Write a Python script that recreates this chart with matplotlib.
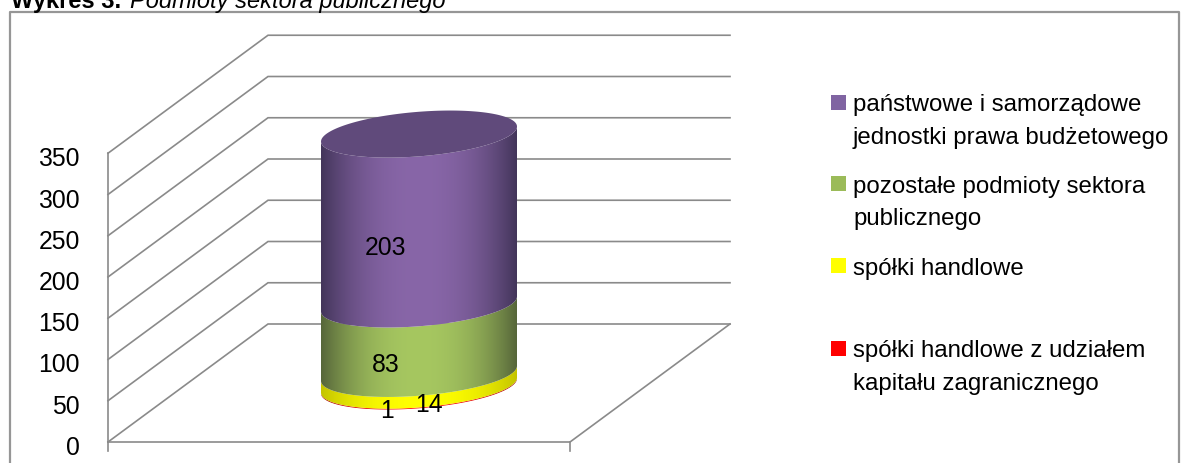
import numpy as np
import matplotlib.colors as mcolors
from matplotlib import pyplot as plt
from matplotlib.patches import Rectangle, Polygon

y_ticks = [0, 50, 100, 150, 200, 250, 300, 350]
names = ['spółki handlowe z udziałem\nkapitału zagranicznego', 'spółki handlowe',
         'pozostałe podmioty sektora\npublicznego', 'państwowe i samorządowe\njednostki prawa budżetowego']
values = [1, 14, 83, 203]
colors = ['#ff0000', '#ffff00', '#a6c760', '#8866a8']
edge_colors = ['#a00000', '#c4c400', '#56663a', '#43355a']
legend_colors = ['#ff0000', '#ffff00', '#9bbb59', '#8064a2']

W, H = 1181, 464
FONT = 'Liberation Sans'
GRID = '#8a8a8a'

fig = plt.figure(figsize=(W / 100, H / 100), dpi=100)
ax = fig.add_axes([0, 0, 1, 1])
ax.set_xlim(0, W)
# y axis is in chart units, 0 sits on the floor line
scale = 0.825
floor = 443
ax.set_ylim((floor - H) / scale, floor / scale)
ax.axis('off')

depth_x, depth_y = 160, 118 / scale
x0, x1 = 108, 570

# outer frame
ax.plot([9.5, 9.5, 1179, 1179], [(floor - 464) / scale, (floor - 13) / scale, (floor - 13) / scale, (floor - 464) / scale],
        color='#969696', lw=1.6)

# walls
for v in y_ticks:
    ax.plot([x0, x0 + depth_x, x1 + depth_x], [v, v + depth_y, v + depth_y], color=GRID, lw=1.2, solid_joinstyle='miter')
ax.plot([x0, x0], [0, max(y_ticks)], color=GRID, lw=1.2)
# floor
ax.plot([x0, x1, x1 + depth_x], [0, 0, depth_y], color=GRID, lw=1.2)
ax.plot([x1, x1], [0, -9 / scale], color=GRID, lw=1.2)
ax.plot([x0, x0], [0, -9 / scale], color=GRID, lw=1.2)

for v in y_ticks:
    ax.text(80, v - 5 / scale, str(v), ha='right', va='center', fontsize=17.8, family=FONT, color='black')


# cylinder
cx, rx = 419, 98
tilt, ry = 7.5 / scale, 22.3 / scale
base = (floor - 387) / scale
bar_scale = 0.837 / scale
t = np.linspace(0, 2 * np.pi, 241)


def rim(level, ang):
    return cx + rx * np.cos(ang), level + tilt * np.cos(ang) + ry * np.sin(ang)


def shade(c_mid, c_edge, n=256):
    u = np.linspace(-1, 1, n)
    k = (np.abs(u) ** 2.2)[None, :, None]
    return (1 - k) * np.array(mcolors.to_rgb(c_mid))[None, None, :] + k * np.array(mcolors.to_rgb(c_edge))[None, None, :]


bottom = base
front = np.linspace(np.pi, 2 * np.pi, 121)
for val, col, edge in zip(values, colors, edge_colors):
    top = bottom + val * bar_scale
    xb, yb = rim(bottom, front)
    xt, yt = rim(top, front[::-1])
    verts = np.vstack([np.column_stack([xb, yb]), np.column_stack([xt, yt])])
    im = ax.imshow(shade(col, edge), extent=[cx - rx, cx + rx, bottom - ry - tilt, top + ry + tilt],
                   aspect='auto', zorder=3, interpolation='bilinear')
    im.set_clip_path(Polygon(verts, closed=True, transform=ax.transData))
    bottom = top

xt, yt = rim(bottom, t)
ax.fill(xt, yt, color='#604a7b', lw=0, zorder=4)
ax.set_xlim(0, W)
ax.set_ylim((floor - H) / scale, floor / scale)

# data labels
label_x = [387, 429, 386, 385]
label_y = [39, 46, 94, 236]
for lx, ly, val in zip(label_x, label_y, values):
    ax.text(lx, ly, str(val), ha='center', va='center', fontsize=17.8, family=FONT, color='black', zorder=5)

# legend
legend_y = [349, 266, 184, 103]
for ly, name, col in zip(legend_y, names, legend_colors):
    y_mid = (floor - ly) / scale
    ax.add_patch(Rectangle((831, y_mid - 7.5 / scale), 15, 15 / scale, color=col, lw=0, zorder=3))
    ax.text(853, y_mid + 8.5 / scale, name, ha='left', va='top', fontsize=17.3, family=FONT, color='black', linespacing=1.6)

# caption, cut at the top edge in the source
ax.text(11, (floor - 8.5) / scale, 'Wykres 3.', ha='left', va='baseline', fontsize=17, fontweight='bold', family=FONT)
ax.text(130, (floor - 8.5) / scale, 'Podmioty sektora publicznego', ha='left', va='baseline', fontsize=17, style='italic', family=FONT)

fig.savefig('out.png', dpi=100)
